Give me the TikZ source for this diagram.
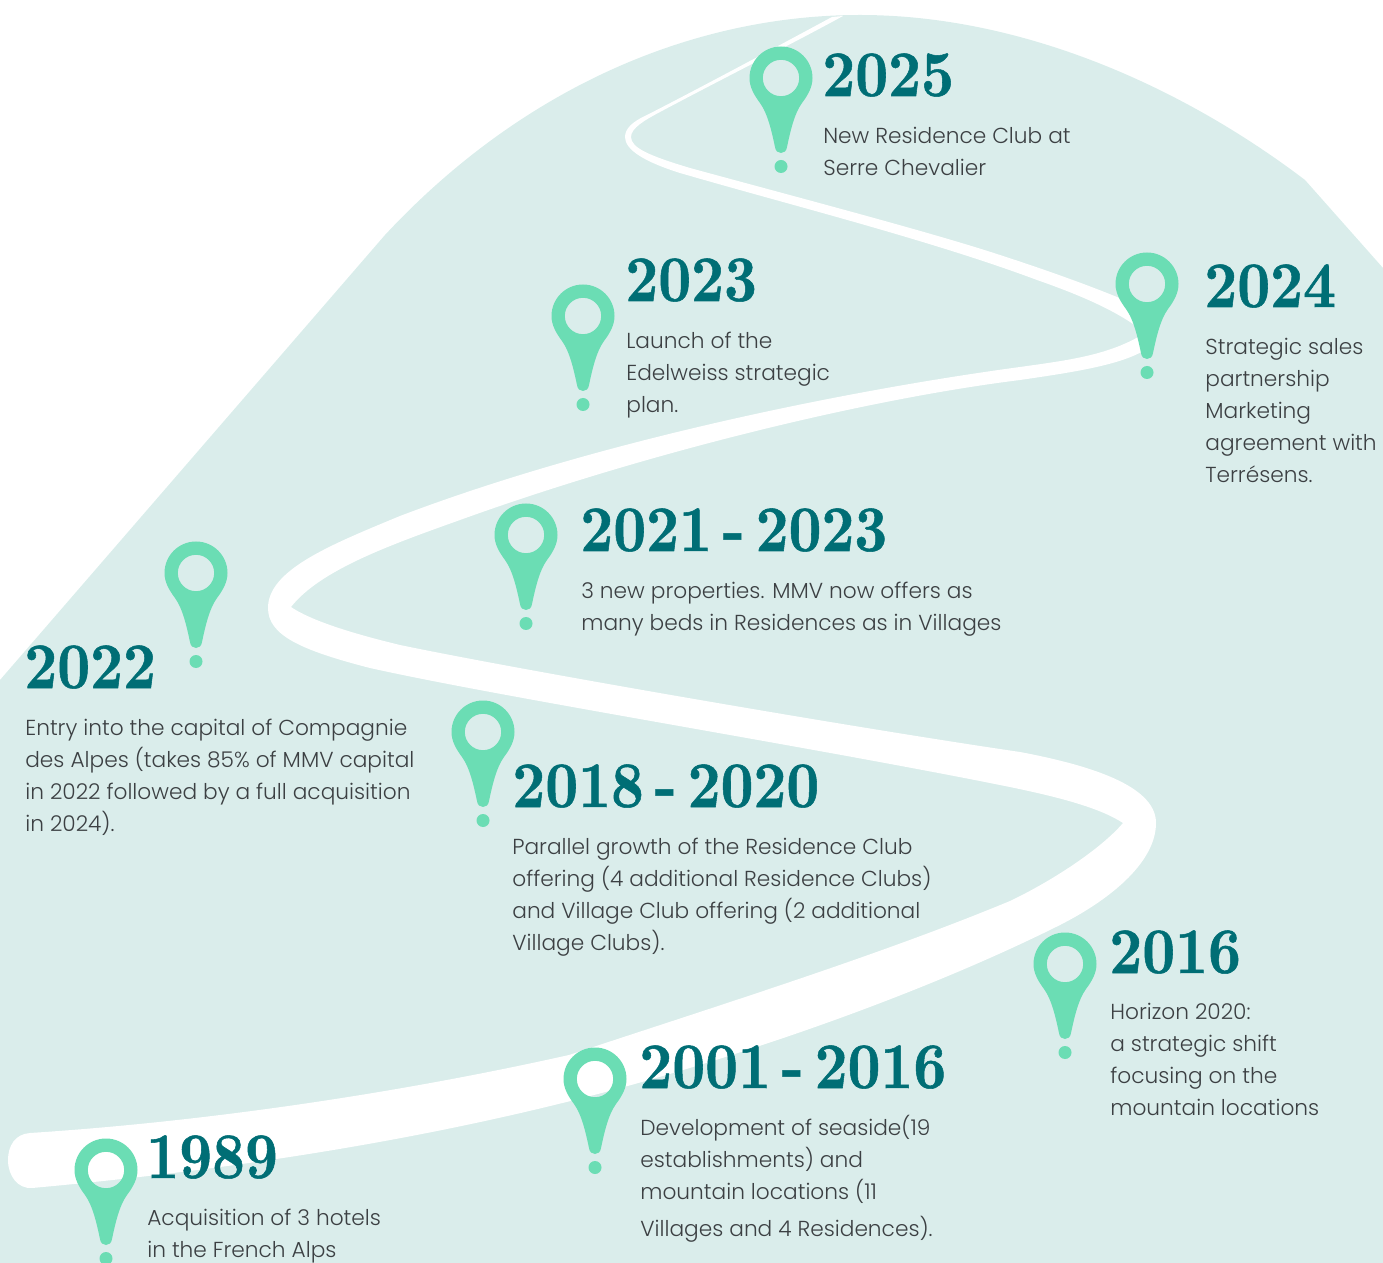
\documentclass[tikz,border=0pt]{standalone}
\usepackage{fontspec}
\setmainfont{Poppins Light}
\newfontfamily\yearfont[Extension=.otf,FakeStretch=.88,FakeBold=.8,WordSpace=.5]{lmroman10-bold}
\definecolor{blobcol}{HTML}{DAEDEB}
\definecolor{pincol}{HTML}{6BDDB4}
\definecolor{yearcol}{HTML}{006E75}
\definecolor{bodycol}{HTML}{3C4043}
\tikzset{
    year/.style={anchor=base west, inner sep=0pt, text=yearcol,
        font=\yearfont\fontsize{37}{37}\selectfont},
    body/.style={anchor=north west, inner sep=0pt, text=bodycol, align=left,
        font=\fontsize{12.35}{18.2}\selectfont, execute at begin node=\strut},
    mappin/.pic={
        \fill[pincol, even odd rule] (0,-31.5)
            .. controls (17.4,-31.5) and (31.5,-17.4) .. (31.5,0)
            .. controls (31.5,9) and (27,17) .. (21,25)
            .. controls (13,36) and (9,55) .. (6,69)
            .. controls (5.5,73) and (3,75) .. (0,75)
            .. controls (-3,75) and (-5.5,73) .. (-6,69)
            .. controls (-9,55) and (-13,36) .. (-21,25)
            .. controls (-27,17) and (-31.5,9) .. (-31.5,0)
            .. controls (-31.5,-17.4) and (-17.4,-31.5) .. (0,-31.5) -- cycle
            (0,0) circle (18.2);% head with its hole
        \fill[pincol] (0,88.5) circle (6.5);% the dot
    }
}
\begin{document}
\begin{tikzpicture}[x=0.02cm, y=-0.02cm]
    \clip (0,0) rectangle (1383,1263);
    % background shape
    \fill[blobcol] (0,680) -- (385,235)
        .. controls (520,90) and (690,15) .. (860,15)
        .. controls (1020,15) and (1180,85) .. (1305,180)
        -- (1383,268) -- (1383,1263) -- (0,1263) -- cycle;
    % the road, outer edge from the start
    \fill[white] (30,1133) .. controls (15,1134) and (8,1146) .. (8,1160)
        .. controls (8,1176) and (18,1189) .. (32,1188)
        .. controls (230,1170) and (430,1140) .. (624,1087)
        .. controls (780,1044) and (940,985) .. (1060,925)
        .. controls (1115,897) and (1156,860) .. (1156,823)
        .. controls (1156,790) and (1105,768) .. (1020,752)
        .. controls (850,727) and (520,670) .. (400,645)
        .. controls (350,633) and (310,620) .. (291,607)% left inner tip
        .. controls (320,570) and (390,545) .. (460,520)
        .. controls (640,455) and (860,400) .. (1020,380)
        .. controls (1075,372) and (1120,365) .. (1145,350)
        .. controls (1160,340) and (1150,310) .. (1117,297)
        .. controls (1080,282) and (1040,268) .. (1000,255)
        .. controls (930,232) and (800,198) .. (690,168)
        .. controls (650,156) and (631,148) .. (631,137)
        .. controls (631,128) and (645,120) .. (660,112)
        .. controls (720,80) and (790,45) .. (843,16)
        -- (832,17)% thin end at the top
        .. controls (780,45) and (700,88) .. (645,116)
        .. controls (632,122) and (625,129) .. (625,137)
        .. controls (625,150) and (645,162) .. (680,173)
        .. controls (790,205) and (930,240) .. (1037,280)
        .. controls (1080,295) and (1120,312) .. (1145,333)
        .. controls (1110,355) and (1070,360) .. (1020,367)
        .. controls (850,390) and (600,440) .. (400,516)
        .. controls (330,545) and (268,570) .. (268,608)
        .. controls (268,635) and (300,650) .. (370,668)
        .. controls (500,697) and (800,745) .. (1000,785)
        .. controls (1060,797) and (1100,808) .. (1123,823)% right inner tip
        .. controls (1100,850) and (1050,882) .. (1010,901)
        .. controls (880,955) and (720,1005) .. (569,1055)
        .. controls (390,1095) and (200,1122) .. (30,1133) -- cycle;
    % pins
    \pic at (781,78) {mappin};
    \pic at (1147,284) {mappin};
    \pic at (583,316) {mappin};
    \pic at (526,535) {mappin};
    \pic at (196,573) {mappin};
    \pic at (483,732) {mappin};
    \pic at (1065,964) {mappin};
    \pic at (595,1079) {mappin};
    \pic at (106,1170) {mappin};
    % years
    \node[year] (y2025) at (822,96) {2025};
    \node[year] (y2024) at (1204,307) {2024};
    \node[year] (y2023) at (625,301) {2023};
    \node[year] (y2021) at (580,551) {2021 - 2023};
    \node[year] (y2022) at (24,688) {2022};
    \node[year] (y2018) at (512,807) {2018 - 2020};
    \node[year] (y2016) at (1109,973) {2016};
    \node[year] (y2001) at (639,1088) {2001 - 2016};
    \node[year] (y1989) at (146,1178) {1989};
    % texts
    \node[body] (t2025) at (823,127) {New Residence Club at\\Serre Chevalier};
    \node[body] (t2024) at (1205,338) {Strategic sales\\partnership\\Marketing\\agreement with\\Terrésens.};
    \node[body] (t2023) at (626,332) {Launch of the\\Edelweiss strategic\\plan.};
    \node[body] (t2021) at (581,582) {3 new properties. MMV now offers as\\many beds in Residences as in Villages};
    \node[body] (t2022) at (25,719) {Entry into the capital of Compagnie\\des Alpes (takes 85\% of MMV capital\\in 2022 followed by a full acquisition\\in 2024).};
    \node[body] (t2018) at (512,838) {Parallel growth of the Residence Club\\offering (4 additional Residence Clubs)\\and Village Club offering (2 additional\\Village Clubs).};
    \node[body] (t2016) at (1110,1003) {Horizon 2020:\\a strategic shift\\focusing on the\\mountain locations};
    \node[body] (t2001) at (640,1115) {Development of seaside(19\\establishments) and\\mountain locations (11\\[2.8pt]Villages and 4 Residences).};
    \node[body] (t1989) at (147,1209) {Acquisition of 3 hotels\\in the French Alps};
\end{tikzpicture}
\end{document}
